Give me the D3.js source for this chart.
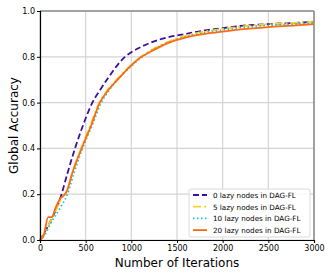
<!DOCTYPE html>
<html>
<head>
<meta charset="utf-8">
<script src="https://cdn.jsdelivr.net/npm/d3@7"></script>
<style>
body { margin: 0; background: #fff; }
svg { font-family: "DejaVu Sans", sans-serif; }
</style>
</head>
<body>
<div class="graph"></div>
<script>
// data
var seriesNames = ['0 lazy nodes in DAG-FL', '5 lazy nodes in DAG-FL', '10 lazy nodes in DAG-FL', '20 lazy nodes in DAG-FL']
var iter0 = [0, 30, 100, 160, 220, 300, 383, 480, 573, 650, 750, 850, 930, 1000, 1100, 1200, 1400, 1600, 1800, 2000, 2200, 2500, 2800, 3000]
var acc0 = [0, 0.02, 0.07, 0.12, 0.18, 0.29, 0.40, 0.51, 0.60, 0.65, 0.71, 0.765, 0.80, 0.82, 0.842, 0.86, 0.885, 0.90, 0.915, 0.925, 0.935, 0.943, 0.948, 0.953]
var iter5 = [0, 50, 100, 150, 220, 300, 360, 450, 560, 650, 730, 850, 1000, 1200, 1400, 1600, 1800, 2000, 2200, 2500, 2800, 3000]
var acc5 = [0, 0.03, 0.07, 0.11, 0.17, 0.22, 0.30, 0.40, 0.51, 0.60, 0.65, 0.705, 0.765, 0.825, 0.865, 0.893, 0.91, 0.922, 0.932, 0.942, 0.948, 0.952]
var iter10 = [0, 50, 100, 150, 220, 300, 370, 465, 570, 665, 740, 850, 1000, 1200, 1400, 1600, 1800, 2000, 2200, 2500, 2800, 3000]
var acc10 = [0, 0.02, 0.06, 0.095, 0.14, 0.20, 0.29, 0.40, 0.50, 0.595, 0.645, 0.70, 0.76, 0.822, 0.862, 0.888, 0.905, 0.917, 0.927, 0.937, 0.943, 0.948]
var iter20 = [0, 40, 90, 130, 170, 220, 290, 360, 456, 560, 655, 730, 850, 985, 1110, 1200, 1400, 1600, 1800, 2000, 2200, 2500, 2800, 3000]
var acc20 = [0, 0.02, 0.10, 0.10, 0.14, 0.18, 0.21, 0.30, 0.40, 0.50, 0.60, 0.645, 0.70, 0.757, 0.80, 0.82, 0.86, 0.885, 0.90, 0.91, 0.92, 0.93, 0.937, 0.943]
var xTicks = [0, 500, 1000, 1500, 2000, 2500, 3000]
var yTicks = [0.0, 0.2, 0.4, 0.6, 0.8, 1.0]

var colors = ['#3b10a0', '#ffd020', '#1cc4c8', '#ff6a10']
var dashes = ['6,3', '8,3,2,3', '1.5,2.5', null]

var margin = {top: 11, right: 18, bottom: 37, left: 40},
    width = 332 - margin.left - margin.right,
    height = 277 - margin.top - margin.bottom

var svg = d3.select('.graph')
    .append('svg')
    .attr('width', 332)
    .attr('height', 277)
var canvas = svg.append('g')
    .attr('transform', 'translate(' + margin.left + ',' + margin.top + ')')

var x = d3.scaleLinear().domain([0, 3000]).range([0, width])
var y = d3.scaleLinear().domain([0, 1]).range([height, 0])

// grid
canvas.append('g').selectAll('line').data(xTicks).join('line')
    .attr('x1', d => x(d)).attr('x2', d => x(d))
    .attr('y1', 0).attr('y2', height)
    .style('stroke', '#d4d4d4').style('stroke-width', 1.2)
canvas.append('g').selectAll('line').data(yTicks).join('line')
    .attr('y1', d => y(d)).attr('y2', d => y(d))
    .attr('x1', 0).attr('x2', width)
    .style('stroke', '#d4d4d4').style('stroke-width', 1.2)

// lines
var series = [[iter0, acc0], [iter5, acc5], [iter10, acc10], [iter20, acc20]]
var line = d3.line().x(d => x(d[0])).y(d => y(d[1])).curve(d3.curveMonotoneX)
series.forEach(function(s, i) {
    var pts = s[0].map((v, k) => [v, s[1][k]])
    canvas.append('path')
        .datum(pts)
        .attr('d', line)
        .style('fill', 'none')
        .style('stroke', colors[i])
        .style('stroke-width', 1.8)
        .style('stroke-dasharray', dashes[i])
})

// frame
canvas.append('line').attr('x1', 0).attr('x2', width).attr('y1', 0).attr('y2', 0)
    .style('stroke', '#8a8a8a').style('stroke-width', 1.5)
canvas.append('line').attr('x1', width).attr('x2', width).attr('y1', 0).attr('y2', height)
    .style('stroke', '#8a8a8a').style('stroke-width', 1.5)

var xAxis = canvas.append('g')
    .attr('transform', 'translate(0,' + height + ')')
    .call(d3.axisBottom(x).tickValues(xTicks).tickSize(3).tickPadding(2).tickFormat(d3.format('d')))
var yAxis = canvas.append('g')
    .call(d3.axisLeft(y).tickValues(yTicks).tickSize(3).tickPadding(2).tickFormat(d3.format('.1f')))
svg.selectAll('.domain').style('stroke', '#000').style('stroke-width', 1.2)
svg.selectAll('.tick text').style('font-size', '8px').style('fill', '#000').style('font-family', 'DejaVu Sans')

// axis labels
svg.append('text')
    .attr('x', margin.left + width / 2).attr('y', 267)
    .attr('text-anchor', 'middle')
    .style('font-size', '12px')
    .text('Number of Iterations')
svg.append('text')
    .attr('transform', 'translate(18,' + (margin.top + height / 2) + ') rotate(-90)')
    .attr('text-anchor', 'middle')
    .style('font-size', '12px')
    .text('Global Accuracy')

// legend
var lg = canvas.append('g').attr('transform', 'translate(' + (189 - margin.left) + ',' + (189 - margin.top) + ')')
lg.append('rect')
    .attr('width', 121).attr('height', 48).attr('rx', 2)
    .style('fill', '#fff').style('fill-opacity', 0.85)
    .style('stroke', '#d0d0d0').style('stroke-width', 0.8)
seriesNames.forEach(function(n, i) {
    var row = lg.append('g').attr('transform', 'translate(0,' + (6 + i * 11.7) + ')')
    row.append('line')
        .attr('x1', 4).attr('x2', 18).attr('y1', 0).attr('y2', 0)
        .style('stroke', colors[i]).style('stroke-width', 1.8)
        .style('stroke-dasharray', dashes[i])
    row.append('text')
        .attr('x', 24).attr('y', 2.8)
        .style('font-size', '7.2px')
        .text(n)
})
</script>
</body>
</html>
